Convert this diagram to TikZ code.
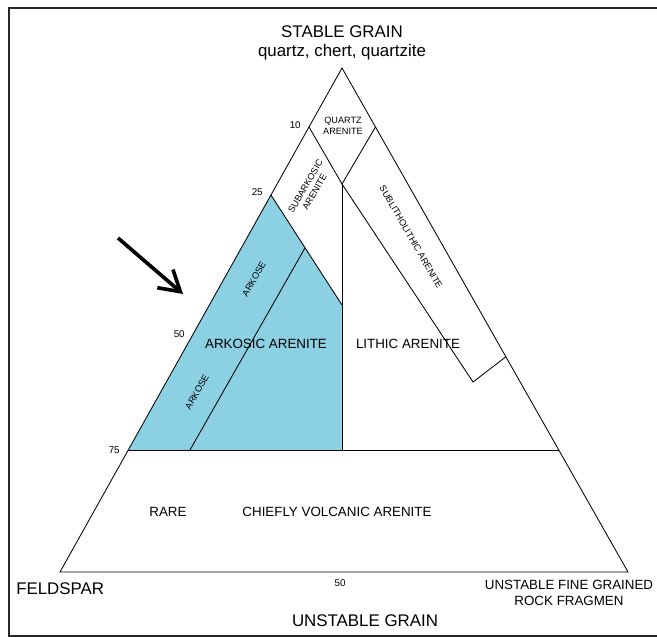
\documentclass[tikz,border=0pt]{standalone}
\usepackage{fontspec}
\setmainfont{Liberation Sans}
\usetikzlibrary{arrows.meta,calc}

\definecolor{arkblue}{RGB}{140,208,228}

\begin{document}
\begin{tikzpicture}[x=0.025cm,y=-0.025cm,
  edge/.style={draw=black,line width=0.6pt},
  frame/.style={draw=black!85,line width=1pt},
  apexlbl/.style={font=\fontsize{12}{14}\selectfont,align=center,inner sep=0pt},
  field/.style={font=\fontsize{9.5}{11}\selectfont,inner sep=0pt},
  band/.style={font=\fontsize{6.5}{7.5}\selectfont,align=center,inner sep=0pt},
  tick/.style={font=\fontsize{7}{8}\selectfont,inner sep=0pt},
  pointer/.style={-{Straight Barb[length=5mm,width=6mm]},line width=2.6pt}
]
\useasboundingbox (0,0) rectangle (657,637);

% corners of the triangle
\coordinate (A) at (342,68);
\coordinate (F) at (60,572);
\coordinate (R) at (628,572);

% field boundaries
\coordinate (q1) at ($(A)!0.117!(F)$);
\coordinate (q2) at ($(A)!0.117!(R)$);
\coordinate (qb) at (342,184);
\coordinate (sb1) at (473,382);
\coordinate (sb2) at ($(A)!0.573!(R)$);
\coordinate (p25) at ($(A)!0.252!(F)$);
\coordinate (m1) at (342,305);
\coordinate (l75) at ($(A)!0.758!(F)$);
\coordinate (r75) at ($(A)!0.758!(R)$);
\coordinate (v75) at (342,450);
\coordinate (d1) at ($(p25)!0.48!(m1)$);
\coordinate (d2) at (190,450);

% frame
\coordinate (fr1) at (9,637);
\coordinate (fr2) at (9,8);
\coordinate (fr3) at (657,8);
\coordinate (fr4) at (9,636);
\coordinate (fr5) at (657,636);
\draw[frame] (fr1) -- (fr2) -- (fr3);
\draw[frame] (fr4) -- (fr5);

\fill[arkblue] (p25) -- (m1) -- (v75) -- (l75) -- cycle;

\draw[edge] (A) -- (F) -- (R) -- cycle;
\draw[edge] (q1) -- (qb) -- (q2);
\draw[edge] (qb) -- (sb1) -- (sb2);
\draw[edge] (qb) -- (v75);
\draw[edge] (p25) -- (m1);
\draw[edge] (l75) -- (r75);
\draw[edge] (d1) -- (d2);

% labels
\node[apexlbl] (stable) at (342,43) {STABLE GRAIN\\quartz, chert, quartzite};
\node[tick,anchor=east] (t10) at (301,125) {10};
\node[tick,anchor=east] (t25) at (263,192) {25};
\node[tick,anchor=east] (t50) at (185,334) {50};
\node[tick,anchor=east] (t75) at (120,450) {75};
\node[tick] (b50) at (340,583) {50};
\node[band] (qa) at (343,126) {QUARTZ\\ARENITE};
\node[band,rotate=60] (sa) at (310,189) {SUBARKOSIC\\ARENITE};
\node[band,rotate=-60] (sl) at (411,237) {SUBLITHOLITHIC ARENITE};
\node[band,rotate=60] (ark1) at (254,279) {ARKOSE};
\node[band,rotate=60] (ark2) at (197,392) {ARKOSE};
\node[field] (aa) at (266,344) {ARKOSIC ARENITE};
\node[field] (la) at (408,344) {LITHIC ARENITE};
\node[field] (rare) at (168,512) {RARE};
\node[field] (cva) at (337,512) {CHIEFLY VOLCANIC ARENITE};
\node[apexlbl,anchor=west] (feld) at (16,589) {FELDSPAR};
\node[field,align=center] (rock) at (569,593) {UNSTABLE FINE GRAINED\\ROCK FRAGMEN};
\node[apexlbl] (unst) at (365,621) {UNSTABLE GRAIN};

% arrow
\coordinate (ar1) at (118,238);
\coordinate (ar2) at (183,294);
\draw[pointer] (ar1) -- (ar2);
\end{tikzpicture}
\end{document}
